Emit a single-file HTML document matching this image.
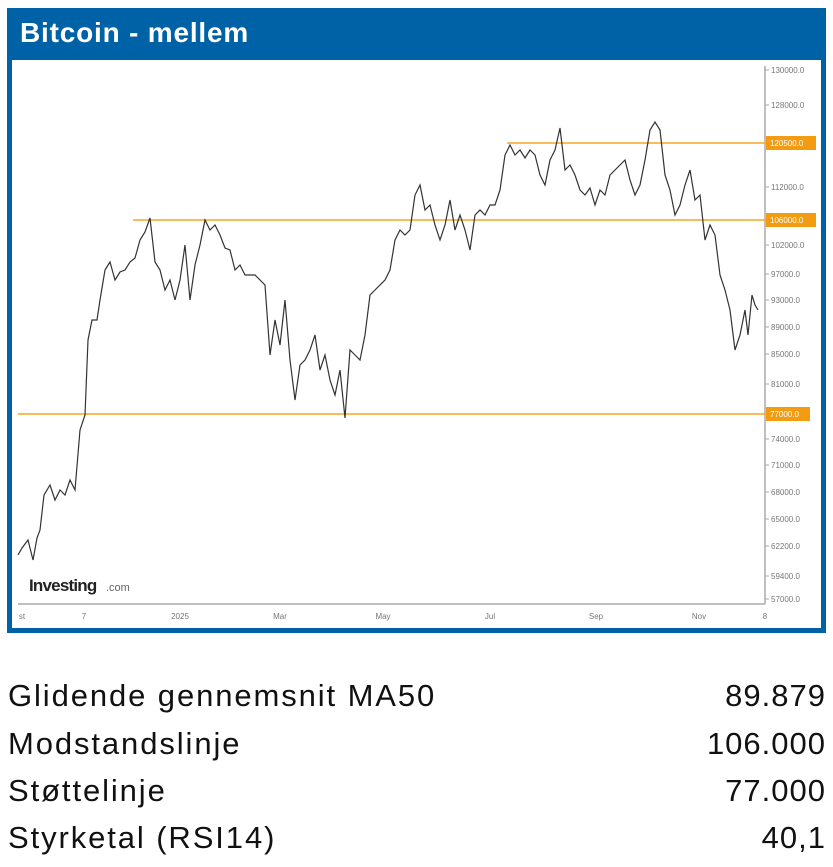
<!DOCTYPE html>
<html><head><meta charset="utf-8"><style>
body{margin:0;width:833px;height:867px;background:#fff;position:relative;overflow:hidden;font-family:"Liberation Sans",sans-serif}
.frame{position:absolute;left:7px;top:8px;width:819px;height:625px;background:#0062a6}
.title{position:absolute;left:20px;top:17px;color:#fff;font-weight:bold;font-size:28px;letter-spacing:0.8px}
.inner{position:absolute;left:12px;top:60px;width:809px;height:568px;background:#fff}
.row{position:absolute;left:8px;width:817px;font-size:31px;color:#111;display:flex;justify-content:space-between;letter-spacing:1.9px}
.row span:last-child{letter-spacing:1px;margin-right:-1px}
</style></head><body>
<div class="frame"></div>
<div class="title">Bitcoin - mellem</div>
<div class="inner"></div>
<svg style="position:absolute;left:0;top:0" width="833" height="640" font-family="Liberation Sans" font-size="8" fill="#777">
<line x1="18" y1="604" x2="765" y2="604" stroke="#aaa" stroke-width="1.5"/>
<line x1="765" y1="66" x2="765" y2="604" stroke="#aaa" stroke-width="1.5"/>
<g stroke="#aaa">
<line x1="765" x2="769" y1="70" y2="70"/><line x1="765" x2="769" y1="105" y2="105"/><line x1="765" x2="769" y1="187" y2="187"/><line x1="765" x2="769" y1="245" y2="245"/><line x1="765" x2="769" y1="274" y2="274"/><line x1="765" x2="769" y1="300" y2="300"/><line x1="765" x2="769" y1="327" y2="327"/><line x1="765" x2="769" y1="354" y2="354"/><line x1="765" x2="769" y1="384" y2="384"/><line x1="765" x2="769" y1="439" y2="439"/><line x1="765" x2="769" y1="465" y2="465"/><line x1="765" x2="769" y1="492" y2="492"/><line x1="765" x2="769" y1="519" y2="519"/><line x1="765" x2="769" y1="546" y2="546"/><line x1="765" x2="769" y1="576" y2="576"/><line x1="765" x2="769" y1="599" y2="599"/>
</g>
<g>
<text x="771" y="73">130000.0</text><text x="771" y="108">128000.0</text><text x="771" y="190">112000.0</text><text x="771" y="248">102000.0</text><text x="771" y="277">97000.0</text><text x="771" y="303">93000.0</text><text x="771" y="330">89000.0</text><text x="771" y="357">85000.0</text><text x="771" y="387">81000.0</text><text x="771" y="442">74000.0</text><text x="771" y="468">71000.0</text><text x="771" y="495">68000.0</text><text x="771" y="522">65000.0</text><text x="771" y="549">62200.0</text><text x="771" y="579">59400.0</text><text x="771" y="602">57000.0</text>
</g>
<g stroke="#f5a623" stroke-width="1.6">
<line x1="507" y1="143" x2="766" y2="143"/><line x1="133" y1="220" x2="766" y2="220"/><line x1="18" y1="414" x2="766" y2="414"/>
</g>
<g fill="#f39c12"><rect x="766" y="136" width="50" height="14"/><rect x="766" y="213" width="50" height="14"/><rect x="766" y="407" width="44" height="14"/></g>
<g fill="#fff"><text x="770" y="146">120500.0</text><text x="770" y="223">106000.0</text><text x="770" y="417">77000.0</text></g>
<polyline fill="none" stroke="#333" stroke-width="1.2" points="18,555 22,548 28,540 33,560 37,538 40,530 44,495 50,485 55,500 60,490 65,495 70,480 75,490 80,430 85,415 88,340 92,320 97,320 100,300 105,270 110,262 115,280 120,272 125,270 130,262 135,258 140,240 145,232 150,218 155,262 160,270 165,290 170,280 175,300 180,280 185,245 190,300 195,265 200,245 205,220 210,230 215,225 220,235 225,248 230,250 235,270 240,265 245,275 255,275 265,285 270,355 275,320 280,345 285,300 290,360 295,400 300,365 305,360 310,350 315,335 320,370 325,355 330,380 335,395 340,370 345,418 350,350 355,355 360,360 365,335 370,295 375,290 380,285 385,280 390,270 395,240 400,230 405,235 410,230 415,195 420,185 425,210 430,205 435,225 440,240 445,225 450,200 455,230 460,215 465,230 470,250 475,215 480,210 485,215 490,205 495,205 500,190 505,155 510,145 515,155 520,150 525,158 530,150 535,155 540,175 545,185 550,160 555,150 560,128 565,170 570,165 575,175 580,190 585,195 590,188 595,205 600,190 605,195 610,175 615,170 620,165 625,160 630,180 635,195 640,185 645,160 650,130 655,122 660,130 665,175 670,190 675,215 680,205 685,185 690,170 695,200 700,195 705,240 710,225 715,235 720,275 725,290 730,310 735,350 740,335 745,310 748,335 752,295 755,305 758,310"/>
<g text-anchor="middle"><text x="22" y="619">st</text><text x="84" y="619">7</text><text x="180" y="619">2025</text><text x="280" y="619">Mar</text><text x="383" y="619">May</text><text x="490" y="619">Jul</text><text x="596" y="619">Sep</text><text x="699" y="619">Nov</text><text x="765" y="619">8</text></g>
<text x="29" y="591" font-size="17" font-weight="bold" fill="#222" letter-spacing="-0.8">Investing</text><text x="106" y="591" font-size="11" fill="#666">.com</text>
</svg>
<div class="row" style="top:678px"><span>Glidende gennemsnit MA50</span><span>89.879</span></div>
<div class="row" style="top:726px"><span>Modstandslinje</span><span>106.000</span></div>
<div class="row" style="top:773px"><span>Støttelinje</span><span>77.000</span></div>
<div class="row" style="top:820px"><span>Styrketal (RSI14)</span><span>40,1</span></div>
</body></html>
